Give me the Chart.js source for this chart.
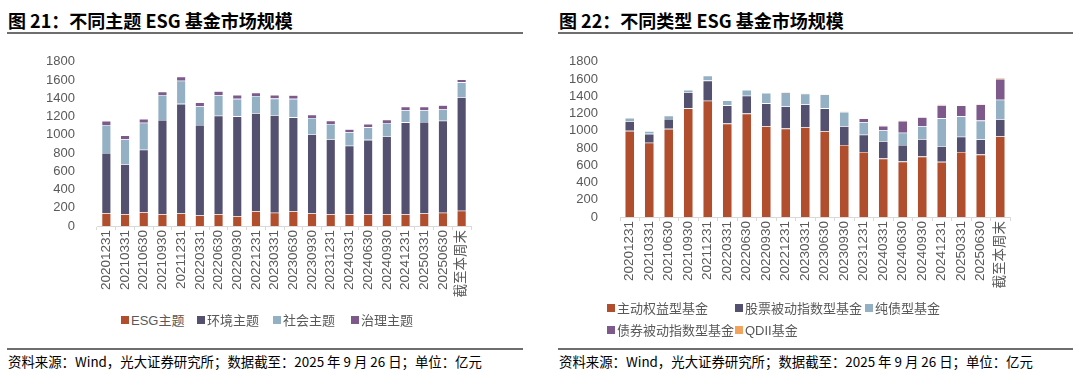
<!DOCTYPE html>
<html>
<head>
<meta charset="utf-8">
<script src="https://cdn.jsdelivr.net/npm/chart.js@4"></script>
<style>
  body { margin: 0; width: 1080px; height: 375px; background: #fff; position: relative; overflow: hidden;
         font-family: "Liberation Sans", "Noto Sans CJK SC", sans-serif; }
  .title { position: absolute; top: 7px; font: bold 18px "Noto Sans CJK SC", sans-serif; color: #000; white-space: nowrap; }
  .rule { position: absolute; height: 2px; background: #6e6e6e; }
  .src { position: absolute; top: 351px; font: 13.4px "Noto Sans CJK SC", sans-serif; color: #000; white-space: nowrap; }
  .box { position: absolute; }
  .legend { position: absolute; font: 13px "Liberation Sans", "Noto Sans CJK SC", sans-serif; color: #595959; }
  .legend span { position: absolute; white-space: nowrap; }
  .legend i { display: inline-block; width: 8px; height: 8px; margin-right: 2px; vertical-align: 1px; }
</style>
</head>
<body>
<div class="title" style="left:8px">图 21：不同主题 ESG 基金市场规模</div>
<div class="title" style="left:559px">图 22：不同类型 ESG 基金市场规模</div>
<div class="rule" style="left:7px;width:516px;top:32px"></div>
<div class="rule" style="left:558px;width:515px;top:32px"></div>
<div class="rule" style="left:7px;width:516px;top:348px"></div>
<div class="rule" style="left:558px;width:515px;top:348px"></div>
<div class="src" style="left:8px">资料来源：Wind，光大证券研究所；数据截至：2025 年 9 月 26 日；单位：亿元</div>
<div class="src" style="left:559px">资料来源：Wind，光大证券研究所；数据截至：2025 年 9 月 26 日；单位：亿元</div>

<div class="box" style="left:40px;top:40px;width:440px;height:260px"><canvas id="c1"></canvas></div>
<div class="box" style="left:560px;top:40px;width:460px;height:260px"><canvas id="c2"></canvas></div>
<div class="legend" id="lg1" style="left:121px;top:310px"></div>
<div class="legend" id="lg2" style="left:607px;top:298px"></div>

<script>
const categories = ["20201231", "20210331", "20210630", "20210930", "20211231", "20220331", "20220630",
  "20220930", "20221231", "20230331", "20230630", "20230930", "20231231", "20240331", "20240630",
  "20240930", "20241231", "20250331", "20250630", "截至本周末"];

// 图21 by theme
const esgTheme = [140, 130, 152, 130, 138, 116, 130, 109, 163, 145, 163, 138, 127, 127, 127, 130, 127, 138, 145, 167];
const envTheme = [660, 547, 684, 1032, 1201, 992, 1079, 1093, 1075, 1071, 1028, 868, 825, 753, 818, 855, 1010, 1002, 1010, 1245];
const socialTheme = [308, 275, 297, 275, 254, 206, 225, 192, 188, 181, 203, 178, 167, 148, 137, 144, 134, 131, 123, 163];
const govTheme = [43, 40, 40, 36, 43, 40, 43, 43, 36, 40, 40, 36, 36, 33, 37, 37, 36, 36, 47, 32];

// 图22 by fund type
const activeEquity = [1000, 862, 1023, 1260, 1348, 1084, 1199, 1053, 1026, 1042, 996, 835, 755, 678, 643, 701, 640, 755, 724, 935];
const passiveEquity = [111, 103, 115, 188, 234, 211, 207, 265, 257, 264, 264, 218, 199, 203, 192, 203, 183, 176, 176, 199];
const pureBond = [38, 31, 38, 27, 57, 57, 69, 122, 161, 126, 161, 165, 145, 126, 142, 149, 322, 237, 218, 226];
const bondIndex = [0, 0, 0, 0, 0, 0, 0, 0, 0, 0, 0, 0, 46, 50, 138, 104, 153, 127, 188, 241];
const qdii = [0, 0, 0, 0, 0, 0, 0, 0, 11, 8, 8, 6, 6, 6, 6, 8, 6, 8, 8, 11];

const yMax = 1800, yStep = 200;

const RUST = "#b04e2e", DARK = "#545070", LIGHT = "#94b0c4", PURPLE = "#7d5a8b", ORANGE = "#f2a35e";

function ds(label, data, color) {
  return { label, data, backgroundColor: color, borderColor: "rgba(255,255,255,0.7)", borderWidth: 0.6,
           barPercentage: 0.5, categoryPercentage: 1 };
}

function makeChart(id, datasets, yWidth, xHeight, padR) {
  return new Chart(document.getElementById(id), {
    type: "bar",
    data: { labels: categories, datasets },
    options: {
      responsive: true, maintainAspectRatio: false, animation: false,
      layout: { padding: { top: 0, right: padR, left: 0, bottom: 0 } },
      plugins: { legend: { display: false }, tooltip: { enabled: false } },
      scales: {
        x: {
          stacked: true,
          grid: { offset: true, drawOnChartArea: false, drawTicks: true, tickLength: 4, color: "#d9d9d9" },
          border: { color: "#d9d9d9" },
          ticks: { color: "#595959", font: { size: 13.5, family: "'Liberation Sans', 'Noto Sans CJK SC'" },
                   minRotation: 90, maxRotation: 90, autoSkip: false, padding: 0 },
          afterFit: s => { s.height = xHeight; }
        },
        y: {
          stacked: true, min: 0, max: yMax,
          grid: { display: false },
          border: { display: false },
          ticks: { stepSize: yStep, autoSkip: false, callback: v => String(v),
                   color: "#595959", font: { size: 13, family: "'Liberation Sans'" }, padding: 14 },
          afterFit: s => { s.width = yWidth; }
        }
      }
    }
  });
}

const set1 = [
  ds("ESG主题", esgTheme, RUST),
  ds("环境主题", envTheme, DARK),
  ds("社会主题", socialTheme, LIGHT),
  ds("治理主题", govTheme, PURPLE)
];
const set2 = [
  ds("主动权益型基金", activeEquity, RUST),
  ds("股票被动指数型基金", passiveEquity, DARK),
  ds("纯债型基金", pureBond, LIGHT),
  ds("债券被动指数型基金", bondIndex, PURPLE),
  ds("QDII基金", qdii, ORANGE)
];

makeChart("c1", set1, 57, 74, 9);
makeChart("c2", set2, 60, 83, 10);

// html legends laid out in fixed columns like the source
function legend(id, sets, cols, colW, rowH) {
  const el = document.getElementById(id);
  sets.forEach((d, i) => {
    const s = document.createElement("span");
    s.style.left = colW.slice(0, i % cols).reduce((a, b) => a + b, 0) + "px";
    s.style.top = Math.floor(i / cols) * rowH + "px";
    s.innerHTML = '<i style="background:' + d.backgroundColor + '"></i>' + d.label;
    el.appendChild(s);
  });
}
legend("lg1", set1, 4, [76, 76, 78, 78], 0);
legend("lg2", set2, 3, [128, 130, 130], 22);
</script>
</body>
</html>
